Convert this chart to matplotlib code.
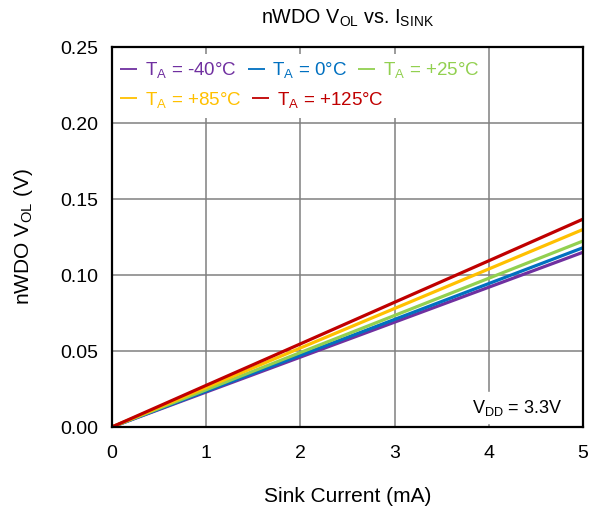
import matplotlib
matplotlib.use('Agg')
import matplotlib.pyplot as plt
from matplotlib.patches import Rectangle

plt.rcParams['font.family'] = ['Liberation Sans', 'DejaVu Sans']
plt.rcParams['mathtext.fontset'] = 'custom'
plt.rcParams['mathtext.rm'] = 'Liberation Sans'
plt.rcParams['mathtext.it'] = 'Liberation Sans'

isink = [0, 1, 2, 3, 4, 5]
vol_m40 = [0, 0.023, 0.046, 0.069, 0.092, 0.115]
vol_0 = [0, 0.0236, 0.0472, 0.0708, 0.0944, 0.118]
vol_25 = [0, 0.0245, 0.049, 0.0734, 0.0979, 0.1224]
vol_85 = [0, 0.026, 0.052, 0.078, 0.104, 0.130]
vol_125 = [0, 0.0274, 0.0547, 0.0821, 0.1094, 0.1368]

labels = ['T$_A$ = -40°C', 'T$_A$ = 0°C', 'T$_A$ = +25°C', 'T$_A$ = +85°C', 'T$_A$ = +125°C']
colors = ['#7030A0', '#0070C0', '#92D050', '#FFC000', '#C00000']
series = [vol_m40, vol_0, vol_25, vol_85, vol_125]

fig = plt.figure(figsize=(5.95, 5.08), dpi=100)
ax = fig.add_axes([0.188, 0.1594, 0.792, 0.748])

lines = []
for y, c, lab in zip(series, colors, labels):
    ln, = ax.plot(isink, y, color=c, lw=2.3, label=lab, solid_capstyle='butt', zorder=3)
    lines.append(ln)

ax.set_xlim(0, 5)
ax.set_ylim(0, 0.25)
ax.set_xticks([0, 1, 2, 3, 4, 5])
ax.set_yticks([0, 0.05, 0.10, 0.15, 0.20, 0.25])
ax.set_yticklabels(['0.00', '0.05', '0.10', '0.15', '0.20', '0.25'])
ax.tick_params(length=0, labelsize=14)
ax.tick_params(axis='x', pad=13)
ax.tick_params(axis='y', pad=10)
ax.grid(True, color='#808080', lw=1.1)
for s in ax.spines.values():
    s.set_linewidth(1.6)
    s.set_color('black')
    s.set_zorder(4)

ax.set_title('nWDO V$_{OL}$ vs. I$_{SINK}$', fontsize=14.2, pad=17)
ax.set_xlabel('Sink Current (mA)', fontsize=15, labelpad=18)
ax.set_ylabel('nWDO V$_{OL}$ (V)', fontsize=15, labelpad=18)

# white box behind the legend rows
ax.add_patch(Rectangle((0.002, 0.813), 0.778, 0.169, transform=ax.transAxes,
                       facecolor='white', edgecolor='none', zorder=2.5))

legkw = dict(frameon=False, fontsize=13.5, handlelength=0.9, handletextpad=0.4,
             columnspacing=0.6, labelcolor='linecolor', borderaxespad=0, borderpad=0)
leg1 = ax.legend(lines[:3], labels[:3], ncol=3, loc='upper left',
                 bbox_to_anchor=(0.018, 0.965), **legkw)
ax.add_artist(leg1)
leg2 = ax.legend(lines[3:], labels[3:], ncol=2, loc='upper left',
                 bbox_to_anchor=(0.018, 0.888), **legkw)
for lg in (leg1, leg2):
    lg.set_zorder(5)
    for h in lg.get_lines():
        h.set_linewidth(1.3)

ax.text(0.955, 0.025, 'V$_{DD}$ = 3.3V', transform=ax.transAxes, ha='right', va='bottom',
        fontsize=13, backgroundcolor='white', zorder=5)

fig.savefig('out.png', dpi=100)
